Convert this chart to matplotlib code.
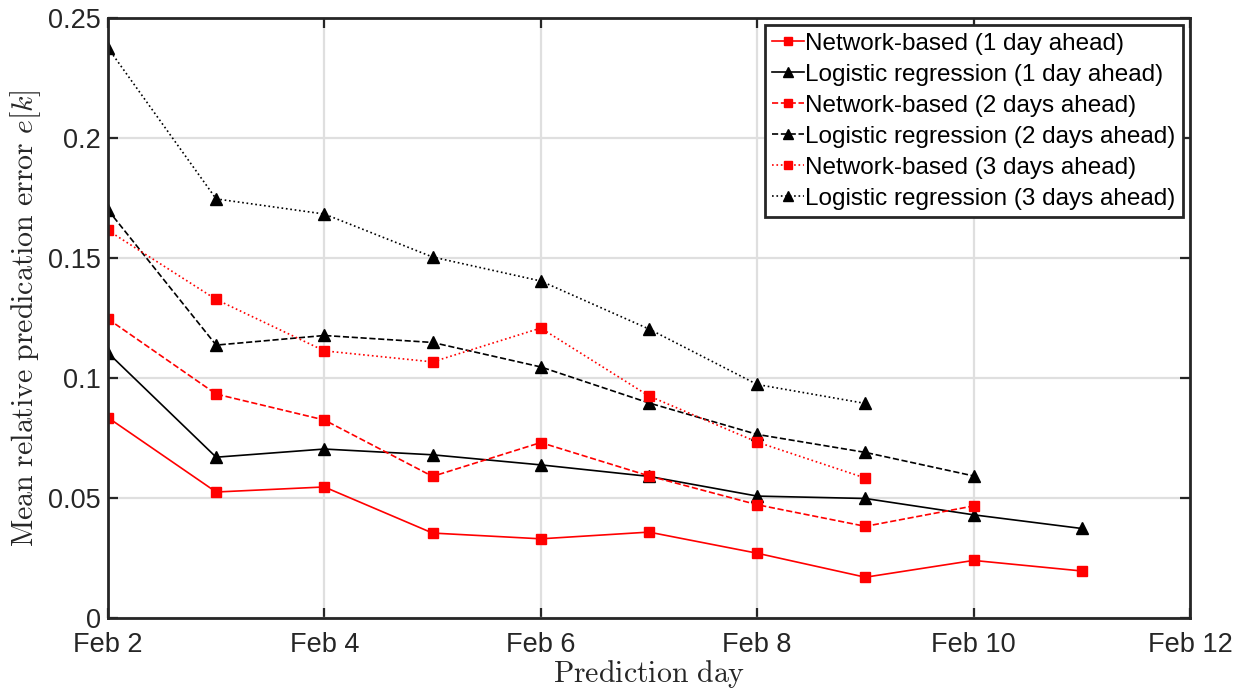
import matplotlib
matplotlib.use('Agg')
import matplotlib.pyplot as plt

# prediction day (day of February)
days = [2, 3, 4, 5, 6, 7, 8, 9, 10, 11]

net_1d = [0.0835, 0.0525, 0.0546, 0.0354, 0.0330, 0.0358, 0.0270, 0.0170, 0.0240, 0.0196]
log_1d = [0.1105, 0.0670, 0.0704, 0.0680, 0.0638, 0.0590, 0.0508, 0.0498, 0.0430, 0.0373]
net_2d = [0.1246, 0.0933, 0.0825, 0.0590, 0.0731, 0.0592, 0.0472, 0.0382, 0.0467]
log_2d = [0.1700, 0.1137, 0.1177, 0.1148, 0.1046, 0.0896, 0.0765, 0.0690, 0.0592]
net_3d = [0.1615, 0.1327, 0.1113, 0.1067, 0.1208, 0.0925, 0.0733, 0.0583]
log_3d = [0.2375, 0.1746, 0.1683, 0.1504, 0.1404, 0.1204, 0.0973, 0.0894]

xticks = [2, 4, 6, 8, 10, 12]
xticklabels = ['Feb 2', 'Feb 4', 'Feb 6', 'Feb 8', 'Feb 10', 'Feb 12']
yticks = [0, 0.05, 0.1, 0.15, 0.2, 0.25]

RED, INK, AX = '#FF0000', '#000000', '#262626'
plt.rcParams.update({'font.family': 'Liberation Sans', 'font.size': 19.5,
                     'mathtext.fontset': 'cm'})

fig = plt.figure(figsize=(12.38, 6.89), dpi=100)
ax = fig.add_axes([0.0872, 0.103, 0.8740, 0.871])

series = [
    (net_1d, RED, '-', 's', 'Network-based (1 day ahead)'),
    (log_1d, INK, '-', '^', 'Logistic regression (1 day ahead)'),
    (net_2d, RED, '--', 's', 'Network-based (2 days ahead)'),
    (log_2d, INK, '--', '^', 'Logistic regression (2 days ahead)'),
    (net_3d, RED, ':', 's', 'Network-based (3 days ahead)'),
    (log_3d, INK, ':', '^', 'Logistic regression (3 days ahead)'),
]
for vals, col, ls, mk, lab in series:
    ax.plot(days[:len(vals)], vals, color=col, ls=ls, lw=1.2, marker=mk,
            ms=6.5 if mk == 's' else 8.5, markerfacecolor=col, markeredgecolor=col,
            label=lab)

ax.set_xlim(2, 12)
ax.set_ylim(0, 0.25)
ax.set_xticks(xticks)
ax.set_xticklabels(xticklabels)
ax.set_yticks(yticks)
ax.set_yticklabels(['0', '0.05', '0.1', '0.15', '0.2', '0.25'])
ax.grid(True, color='#DFDFDF', lw=1.6)
ax.set_axisbelow(True)
ax.tick_params(direction='in', length=7, width=1.6, colors=AX,
               labelcolor='#262626', top=True, right=True)
ax.tick_params(axis='x', pad=10)
ax.tick_params(axis='y', pad=5)
for s in ax.spines.values():
    s.set_color(AX)
    s.set_linewidth(2.0)

ax.set_xlabel(r'$\mathrm{Prediction\ day}$', fontsize=21.5, color='#262626', labelpad=0)
ax.set_ylabel(r'$\mathrm{Mean\ relative\ predication\ error}\ e[k]$', fontsize=21.5,
              color='#262626', labelpad=4)

leg = ax.legend(loc='upper right', fontsize=17.5, frameon=True, fancybox=False,
                borderpad=0.3, labelspacing=0.37, handlelength=1.3,
                handletextpad=0.05, borderaxespad=0.3, markerscale=0.8)
leg.get_frame().set_edgecolor(AX)
leg.get_frame().set_linewidth(2.0)
leg.get_frame().set_alpha(1)

fig.savefig('out.png', dpi=100)
